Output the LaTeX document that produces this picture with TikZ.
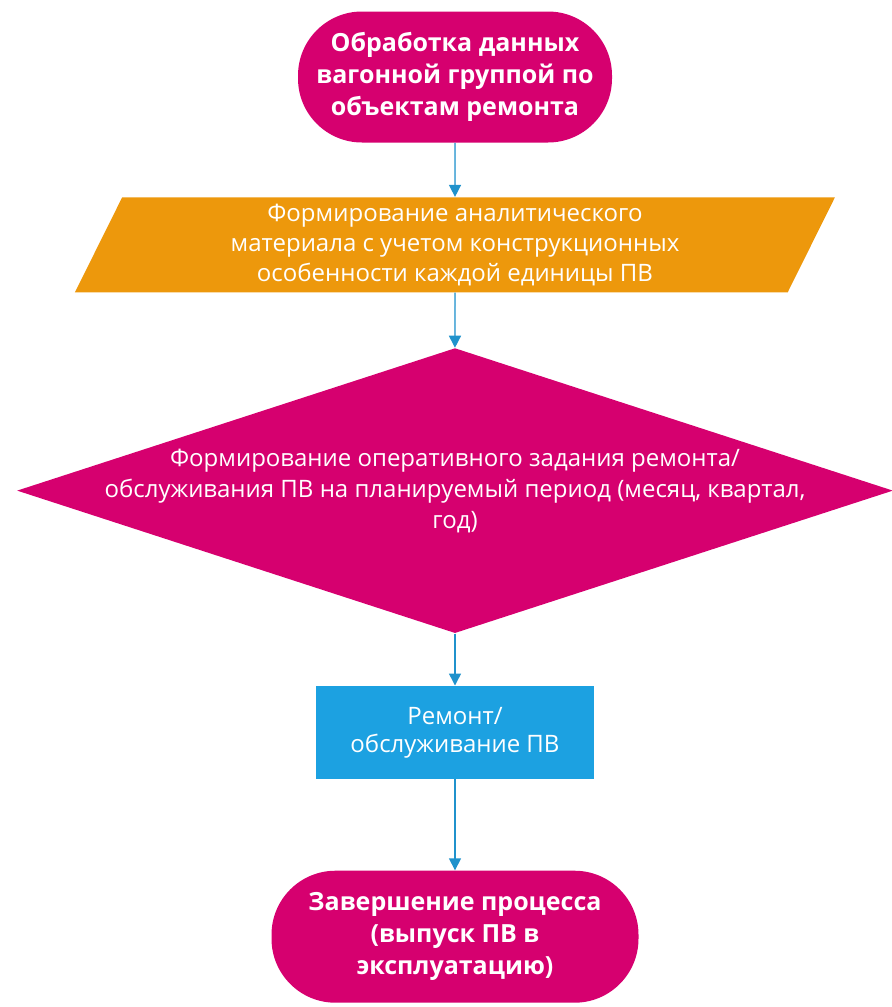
\documentclass[tikz,border=0pt]{standalone}
\usepackage{fontspec}
\setmainfont{Open Sans}
\usetikzlibrary{shapes.geometric,arrows.meta,positioning}

\definecolor{flowpink}{RGB}{214,0,111}
\definecolor{floworange}{RGB}{237,152,12}
\definecolor{flowblue}{RGB}{28,161,225}
\definecolor{flowarrow}{RGB}{32,146,204}

\tikzset{
  terminal/.style={rectangle, rounded corners=32pt, fill=flowpink, text=white,
    font=\fontsize{12.5}{16}\selectfont\bfseries, align=center},
  dataio/.style={trapezium, trapezium left angle=60, trapezium right angle=120,
    trapezium stretches body=true, fill=floworange, text=white,
    minimum width=380pt, minimum height=47.5pt, inner sep=0pt,
    font=\fontsize{12}{15}\selectfont, align=center},
  decision/.style={diamond, fill=flowpink, inner sep=0pt,
    minimum width=438pt, minimum height=142.5pt},
  decisiontext/.style={text=white, font=\fontsize{12}{15.5}\selectfont, align=center},
  process/.style={rectangle, fill=flowblue, text=white,
    minimum width=139pt, minimum height=46.5pt,
    font=\fontsize{12}{14}\selectfont, align=center},
  flow/.style={draw=flowarrow, fill=flowarrow, line width=0.7pt,
    -{Triangle[width=6pt,length=6pt]}}
}

\begin{document}
\begin{tikzpicture}[x=0.5pt,y=-0.5pt]
  \useasboundingbox (0,0) rectangle (892,1007);
  \node [terminal, minimum width=157pt, minimum height=65.5pt] (start) at (455,77)
    {Обработка данных\\вагонной группой по\\объектам ремонта};
  \node [dataio] (analysis) [below=27pt of start]
    {Формирование аналитического\\материала с учетом конструкционных\\особенности каждой единицы ПВ};
  \node [decision] (plan) [below=27.5pt of analysis] {};
  \node [decisiontext] (plantext) at (plan)
    {Формирование оперативного задания ремонта/\\обслуживания ПВ на планируемый период (месяц, квартал,\\год)};
  \node [process] (repair) [below=26pt of plan]
    {Ремонт/\\обслуживание ПВ};
  \node [terminal, minimum width=183.5pt, minimum height=66pt] (finish) [below=45.5pt of repair]
    {Завершение процесса\\(выпуск ПВ в\\эксплуатацию)};
  \draw [flow] (start) -- (analysis);
  \draw [flow] (analysis) -- (plan);
  \draw [flow] (plan) -- (repair);
  \draw [flow] (repair) -- (finish);
\end{tikzpicture}
\end{document}
